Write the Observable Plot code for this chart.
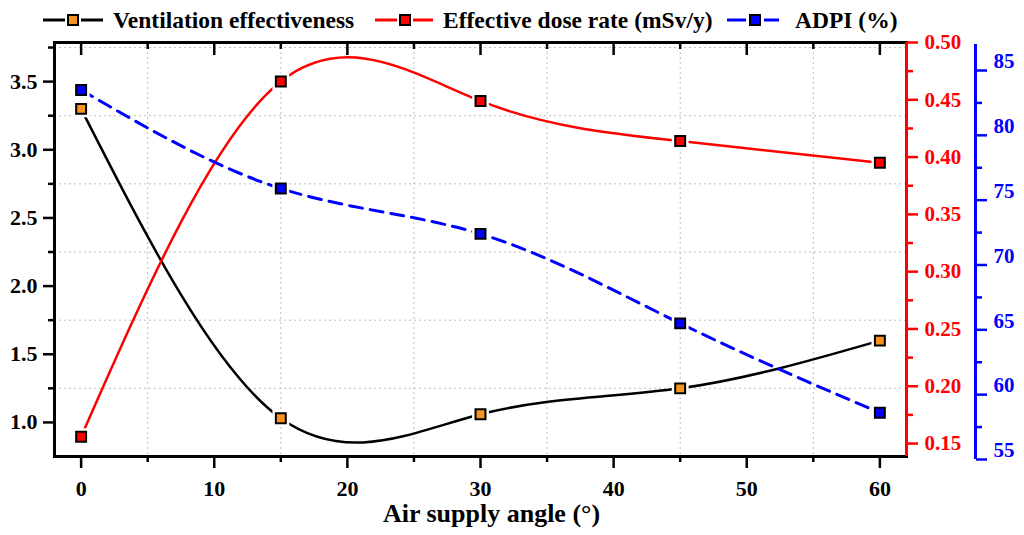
<!DOCTYPE html>
<html><head><meta charset="utf-8">
<script src="https://cdn.jsdelivr.net/npm/d3@7"></script>
<script src="https://cdn.jsdelivr.net/npm/@observablehq/plot@0.6"></script>
<style>
body{margin:0;background:#fff;}
#wrap{width:1024px;height:535px;position:relative;font-family:"Liberation Serif","Times New Roman",serif;font-weight:bold;}
#legend{position:relative;height:32px;}
.li{position:absolute;top:4px;height:32px;display:flex;align-items:center;font-size:23.5px;white-space:nowrap;color:#000;}
.li svg{display:block;}
</style></head><body>
<div id="wrap"><div id="legend"></div><div id="chart"></div></div>
<script>
// ---- data ----
const angles = [0, 15, 30, 45, 60];
const ventEff = [3.30, 1.03, 1.06, 1.25, 1.60];
const doseRate = [0.156, 0.466, 0.449, 0.414, 0.395];
const adpi = [83.5, 75.9, 72.4, 65.5, 58.6];
const seriesNames = ["Ventilation effectiveness", "Effective dose rate (mSv/y)", "ADPI (%)"];
const xTicks = [0, 10, 20, 30, 40, 50, 60];
const xMinor = [5, 15, 25, 35, 45, 55];
const leftTicks = [1.0, 1.5, 2.0, 2.5, 3.0, 3.5];
const leftMinor = [1.25, 1.75, 2.25, 2.75, 3.25, 3.75];
const redTicks = [0.15, 0.20, 0.25, 0.30, 0.35, 0.40, 0.45, 0.50];
const redMinor = [0.175, 0.225, 0.275, 0.325, 0.375, 0.425, 0.475];
const blueTicks = [55, 60, 65, 70, 75, 80, 85];
const blueMinor = [57.5, 62.5, 67.5, 72.5, 77.5, 82.5];
const xLabel = "Air supply angle (°)";

// ---- scales / styles ----
const xDomain = [-2, 62];
const leftDomain = [0.75, 3.787];
const redDomain = [0.1387, 0.50];
const blueDomain = [55.23, 87.16];
const blueLineEnds = [55, 87];
const C_BLACK = "#000000", C_RED = "#ff0000", C_BLUE = "#0000ff", C_ORANGE = "#f7941d";

const toLeft = dom => v => leftDomain[0] + (v - dom[0]) / (dom[1] - dom[0]) * (leftDomain[1] - leftDomain[0]);
const fromLeft = dom => v => dom[0] + (v - leftDomain[0]) / (leftDomain[1] - leftDomain[0]) * (dom[1] - dom[0]);
const redY = toLeft(redDomain), blueY = toLeft(blueDomain);
const redInv = fromLeft(redDomain), blueInv = fromLeft(blueDomain);

const data = angles.map((a, i) => ({angle: a, vent: ventEff[i], dose: redY(doseRate[i]), adpi: blueY(adpi[i])}));

// ---- legend ----
const legend = document.getElementById("legend");
const legendItems = [
  {left: 43, w: 60, sq: 30, stroke: C_BLACK, fill: C_ORANGE, dash: null, gap: 10},
  {left: 375, w: 58, sq: 30, stroke: C_RED, fill: C_RED, dash: null, gap: 10},
  {left: 727, w: 52, sq: 28, stroke: C_BLUE, fill: C_BLUE, dash: "13,8", gap: 16}
];
legendItems.forEach((it, i) => {
  const d = document.createElement("div");
  d.className = "li";
  d.style.left = it.left + "px";
  const g = it.dash ? 9 : 8;
  const lineParts = `<line x1="0" y1="16" x2="${it.sq - g}" y2="16" stroke="${it.stroke}" stroke-width="3"/><line x1="${it.sq + g}" y1="16" x2="${it.w}" y2="16" stroke="${it.stroke}" stroke-width="3"/>`;
  d.innerHTML = `<svg width="${it.w}" height="32">${lineParts}<rect x="${it.sq - 5}" y="11" width="10" height="10" fill="${it.fill}" stroke="#000" stroke-width="2"/></svg><span style="margin-left:${it.gap}px">${seriesNames[i]}</span>`;
  legend.appendChild(d);
});

// ---- chart ----
const gridStyle = {stroke: "#bdbdbd", strokeOpacity: 1, strokeDasharray: "2,3", strokeWidth: 1};
const sw = 2.5;
const chart = Plot.plot({
  width: 1024,
  height: 503,
  marginTop: 10,
  marginBottom: 79,
  marginLeft: 54,
  marginRight: 118,
  style: {fontFamily: "Liberation Serif, Times New Roman, serif", fontWeight: "bold", background: "transparent", overflow: "visible"},
  x: {domain: xDomain},
  y: {domain: leftDomain},
  marks: [
    Plot.gridX(xMinor, gridStyle),
    Plot.gridY(leftMinor, gridStyle),
    Plot.line(data, {x: "angle", y: "vent", curve: "natural", stroke: C_BLACK, strokeWidth: 2.5}),
    Plot.line(data, {x: "angle", y: "dose", curve: "natural", stroke: C_RED, strokeWidth: 2.5}),
    Plot.line(data, {x: "angle", y: "adpi", curve: "natural", stroke: C_BLUE, strokeWidth: 3, strokeDasharray: "13,8"}),
    Plot.dot(data, {x: "angle", y: "vent", symbol: "square", r: 9.5, fill: "white"}),
    Plot.dot(data, {x: "angle", y: "dose", symbol: "square", r: 9.5, fill: "white"}),
    Plot.dot(data, {x: "angle", y: "adpi", symbol: "square", r: 9.5, fill: "white"}),
    Plot.dot(data, {x: "angle", y: "vent", symbol: "square", r: 5.6, fill: C_ORANGE, stroke: "#000", strokeWidth: 2}),
    Plot.dot(data, {x: "angle", y: "dose", symbol: "square", r: 5.6, fill: C_RED, stroke: "#000", strokeWidth: 2}),
    Plot.dot(data, {x: "angle", y: "adpi", symbol: "square", r: 5.6, fill: C_BLUE, stroke: "#000", strokeWidth: 2}),
    Plot.frame({stroke: C_BLACK, strokeWidth: 3}),
    Plot.ruleX([xDomain[1]], {stroke: C_RED, strokeWidth: 3}),
    Plot.ruleX([xDomain[1]], {dx: 69, y1: blueY(blueLineEnds[0]), y2: blueY(blueLineEnds[1]), stroke: C_BLUE, strokeWidth: 3}),
    // x axis
    Plot.axisX(xTicks, {anchor: "bottom", tickSize: 12, tickPadding: 12, strokeWidth: sw, fontSize: 22, fontWeight: "bold", label: null}),
    Plot.axisX(xMinor, {anchor: "bottom", tickSize: 6, fill: "none", strokeWidth: sw, label: null}),
    Plot.axisX(xTicks, {anchor: "top", tickSize: 12, dy: 12, fill: "none", strokeWidth: sw, label: null}),
    Plot.axisX(xMinor, {anchor: "top", tickSize: 6, dy: 6, fill: "none", strokeWidth: sw, label: null}),
    // left axis
    Plot.axisY(leftTicks, {anchor: "left", tickSize: 11, tickPadding: 6, strokeWidth: sw, fontSize: 22, fontWeight: "bold", tickFormat: d3.format(".1f"), label: null}),
    Plot.axisY(leftMinor, {anchor: "left", tickSize: 6, fill: "none", strokeWidth: sw, label: null}),
    // red axis
    Plot.axisY(redTicks.map(redY), {anchor: "right", tickSize: 11, tickPadding: 7, color: C_RED, strokeWidth: sw, fontSize: 21, fontWeight: "bold", tickFormat: d => redInv(d).toFixed(2), label: null}),
    Plot.axisY(redMinor.map(redY), {anchor: "right", tickSize: 6, fill: "none", stroke: C_RED, strokeWidth: sw, label: null}),
    // blue axis
    Plot.axisY(blueTicks.map(blueY), {anchor: "right", dx: 69, tickSize: 11, fill: "none", stroke: C_BLUE, strokeWidth: sw, label: null}),
    Plot.axisY(blueMinor.map(blueY), {anchor: "right", dx: 69, tickSize: 6, fill: "none", stroke: C_BLUE, strokeWidth: sw, label: null}),
    Plot.axisY(blueTicks.map(blueY), {anchor: "right", dx: 69, dy: -9, tickSize: 11, tickPadding: 7, stroke: "none", fill: C_BLUE, fontSize: 21, fontWeight: "bold", tickFormat: d => String(Math.round(blueInv(d))), label: null}),
    // x title
    Plot.text([xLabel], {text: d => d, frameAnchor: "bottom", dy: 57, dx: 11, fontSize: 26, fontWeight: "bold", lineAnchor: "middle", fill: "#000"})
  ]
});
document.getElementById("chart").appendChild(chart);
</script>
</body></html>
